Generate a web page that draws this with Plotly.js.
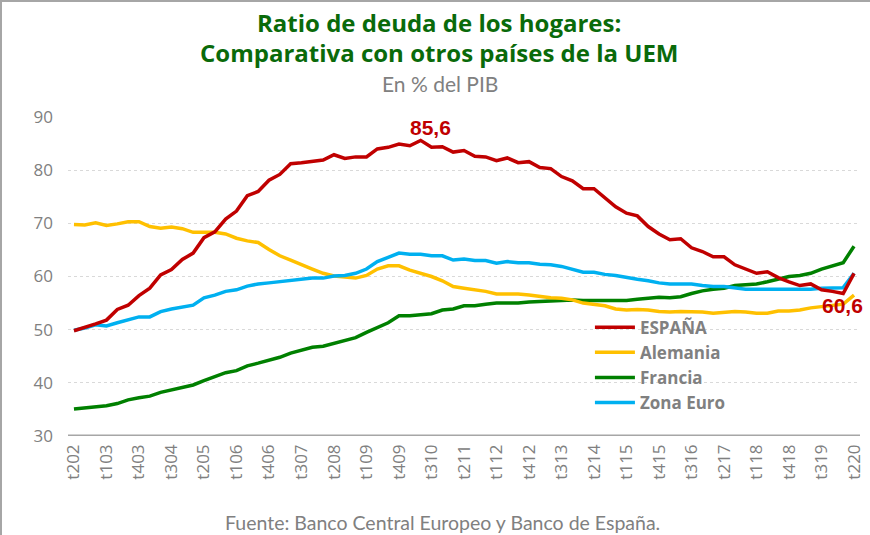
<!DOCTYPE html>
<html>
<head>
<meta charset="utf-8">
<script src="https://cdn.plot.ly/plotly-3.0.1.min.js"></script>
<style>
html,body{margin:0;padding:0;background:#fff;}
#wrap{position:relative;width:870px;height:535px;}
#chart{width:870px;height:535px;}
#frame{position:absolute;left:0;top:0;width:870px;height:535px;border-top:2px solid #a6a6a6;border-left:2px solid #a6a6a6;box-sizing:border-box;pointer-events:none;}
</style>
</head>
<body>
<div id="wrap"><div id="chart"></div><div id="frame"></div></div>
<script>
// Quarters 2002Q2 .. 2020Q2 (tQYY)
const quarters = [];
for (let y = 2; y <= 20; y++) {
  for (let q = 1; q <= 4; q++) {
    if ((y === 2 && q < 2) || (y === 20 && q > 2)) continue;
    quarters.push('t' + q + String(y).padStart(2, '0'));
  }
}
const tickLabels = ['t202','t103','t403','t304','t205','t106','t406','t307','t208','t109','t409','t310','t211','t112','t412','t313','t214','t115','t415','t316','t217','t118','t418','t319','t220'];

const espana = [49.8,50.4,51.1,51.8,53.8,54.6,56.4,57.8,60.3,61.3,63.2,64.4,67.3,68.4,70.8,72.3,75.2,76.0,78.1,79.2,81.2,81.4,81.7,81.9,82.9,82.2,82.5,82.5,84.0,84.3,84.9,84.6,85.6,84.3,84.4,83.4,83.7,82.6,82.5,81.8,82.3,81.4,81.6,80.5,80.3,78.8,78.0,76.5,76.5,74.7,73.1,71.9,71.4,69.4,68.0,66.9,67.1,65.4,64.7,63.7,63.7,62.2,61.4,60.6,60.9,59.8,59.0,58.3,58.6,57.5,57.2,56.8,60.6];
const alemania = [69.8,69.7,70.1,69.6,69.9,70.3,70.3,69.4,69.1,69.3,69.0,68.3,68.3,68.3,68.0,67.2,66.7,66.4,65.1,63.9,63.1,62.2,61.4,60.6,60.1,59.9,59.7,60.2,61.4,62.0,62.0,61.2,60.6,60.0,59.2,58.1,57.8,57.5,57.2,56.7,56.7,56.7,56.5,56.2,56.0,55.9,55.6,55.0,54.8,54.5,53.9,53.7,53.8,53.7,53.4,53.3,53.4,53.4,53.3,53.1,53.3,53.4,53.3,53.1,53.1,53.5,53.5,53.7,54.1,54.3,54.6,54.8,56.5];
const francia = [35.1,35.3,35.6,35.7,36.1,36.8,37.2,37.5,38.2,38.7,39.1,39.6,40.4,41.2,41.9,42.3,43.2,43.7,44.2,44.8,45.6,46.2,46.7,46.9,47.4,47.9,48.5,49.5,50.4,51.3,52.6,52.6,52.8,53.0,53.7,53.9,54.5,54.5,54.8,55.0,55.0,55.0,55.2,55.3,55.5,55.6,55.6,55.5,55.5,55.6,55.6,55.5,55.7,55.9,56.1,56.0,56.2,56.8,57.3,57.6,57.8,58.3,58.5,58.6,59.0,59.5,60.0,60.2,60.6,61.4,62.0,62.6,65.7];
const zonaEuro = [49.9,50.3,50.9,50.7,51.3,51.8,52.4,52.4,53.4,53.9,54.3,54.6,56.0,56.5,57.2,57.5,58.2,58.6,58.8,59.0,59.3,59.5,59.7,59.7,60.1,60.2,60.6,61.4,62.8,63.6,64.4,64.2,64.2,63.9,63.9,63.1,63.3,63.0,63.0,62.5,62.8,62.6,62.6,62.3,62.2,61.9,61.4,60.8,60.8,60.4,60.2,59.8,59.5,59.2,58.8,58.6,58.6,58.6,58.3,58.1,58.1,57.9,57.6,57.6,57.6,57.6,57.5,57.6,57.6,57.8,57.9,57.9,60.6];

const seriesNames = ['ESPAÑA','Alemania','Francia','Zona Euro'];
const seriesColors = ['#C00000','#FFC000','#008000','#00B0F0'];
const seriesData = [espana, alemania, francia, zonaEuro];

const xIdx = quarters.map((_, i) => i);
const tickVals = tickLabels.map(l => quarters.indexOf(l));

// draw order keeps España on top
const order = [2, 1, 3, 0];
const traces = order.map(k => ({
  x: xIdx, y: seriesData[k], type: 'scatter', mode: 'lines',
  name: seriesNames[k], legendgroup: 'g' + k, legendrank: k + 1,
  line: {color: seriesColors[k], width: 3.5, shape: 'linear'},
  hoverinfo: 'skip'
}));

const peakIdx = espana.indexOf(Math.max(...espana));
const lastIdx = espana.length - 1;
const fmt = v => v.toFixed(1).replace('.', ',');

const gray = '#808080';
const titleFont = {family: 'Open Sans, sans-serif', size: 24, color: '#0A6A0A', weight: 'bold'};
const layout = {
  width: 870, height: 535,
  margin: {l: 68, r: 10, t: 117, b: 99},
  paper_bgcolor: '#ffffff', plot_bgcolor: '#ffffff',
  showlegend: true,
  legend: {
    x: 0.659, y: 0.396, xanchor: 'left', yanchor: 'top',
    bgcolor: 'rgba(0,0,0,0)', borderwidth: 0,
    font: {family: 'Open Sans, sans-serif', size: 17, color: gray, weight: 'bold'},
    tracegroupgap: 5, traceorder: 'normal', itemwidth: 40
  },
  xaxis: {
    type: 'linear', range: [-0.55, 72.55],
    tickmode: 'array', tickvals: tickVals, ticktext: tickLabels,
    tickangle: -90, ticks: '', showgrid: false, zeroline: false,
    showline: false,
    tickfont: {family: 'Open Sans, sans-serif', size: 17, color: gray},
    ticklabelstandoff: 4
  },
  yaxis: {
    range: [30, 90], tickvals: [30,40,50,60,70,80,90],
    showgrid: true, gridcolor: '#d9d9d9', griddash: 'dot', gridwidth: 1,
    zeroline: false, showline: false, ticks: '',
    tickfont: {family: 'Open Sans, sans-serif', size: 17, color: gray},
    ticklabelstandoff: 14
  },
  shapes: [{type: 'line', xref: 'paper', yref: 'y', x0: 0, x1: 1, y0: 30, y1: 30,
            line: {color: '#a6a6a6', width: 3}}],
  annotations: [
    {text: 'Ratio de deuda de los hogares:', xref: 'paper', yref: 'paper', x: 0.468, y: 1, yshift: 95,
     xanchor: 'center', yanchor: 'middle', showarrow: false, font: titleFont},
    {text: 'Comparativa con otros países de la UEM', xref: 'paper', yref: 'paper', x: 0.468, y: 1, yshift: 65,
     xanchor: 'center', yanchor: 'middle', showarrow: false, font: titleFont},
    {text: 'En % del PIB', xref: 'paper', yref: 'paper', x: 0.47, y: 1, yshift: 34,
     xanchor: 'center', yanchor: 'middle', showarrow: false,
     font: {family: 'Lato, sans-serif', size: 21, color: gray}},
    {text: 'Fuente: Banco Central Europeo y Banco de España.', xref: 'paper', yref: 'paper',
     x: 0.473, y: 0, yshift: -86, xanchor: 'center', yanchor: 'middle', showarrow: false,
     font: {family: 'Lato, sans-serif', size: 19.5, color: gray}},
    {text: '<b>' + fmt(espana[peakIdx]) + '</b>', x: peakIdx, y: espana[peakIdx],
     xref: 'x', yref: 'y', showarrow: false, xshift: 10, yshift: 13,
     font: {family: 'Liberation Sans, Arial, sans-serif', size: 21, color: '#C00000'}},
    {text: '<b>' + fmt(espana[lastIdx]) + '</b>', x: lastIdx, y: espana[lastIdx],
     xref: 'x', yref: 'y', showarrow: false, xshift: -12, yshift: -32,
     font: {family: 'Liberation Sans, Arial, sans-serif', size: 21, color: '#C00000'}}
  ]
};

Plotly.newPlot('chart', traces, layout, {displayModeBar: false, staticPlot: true});
</script>
</body>
</html>
